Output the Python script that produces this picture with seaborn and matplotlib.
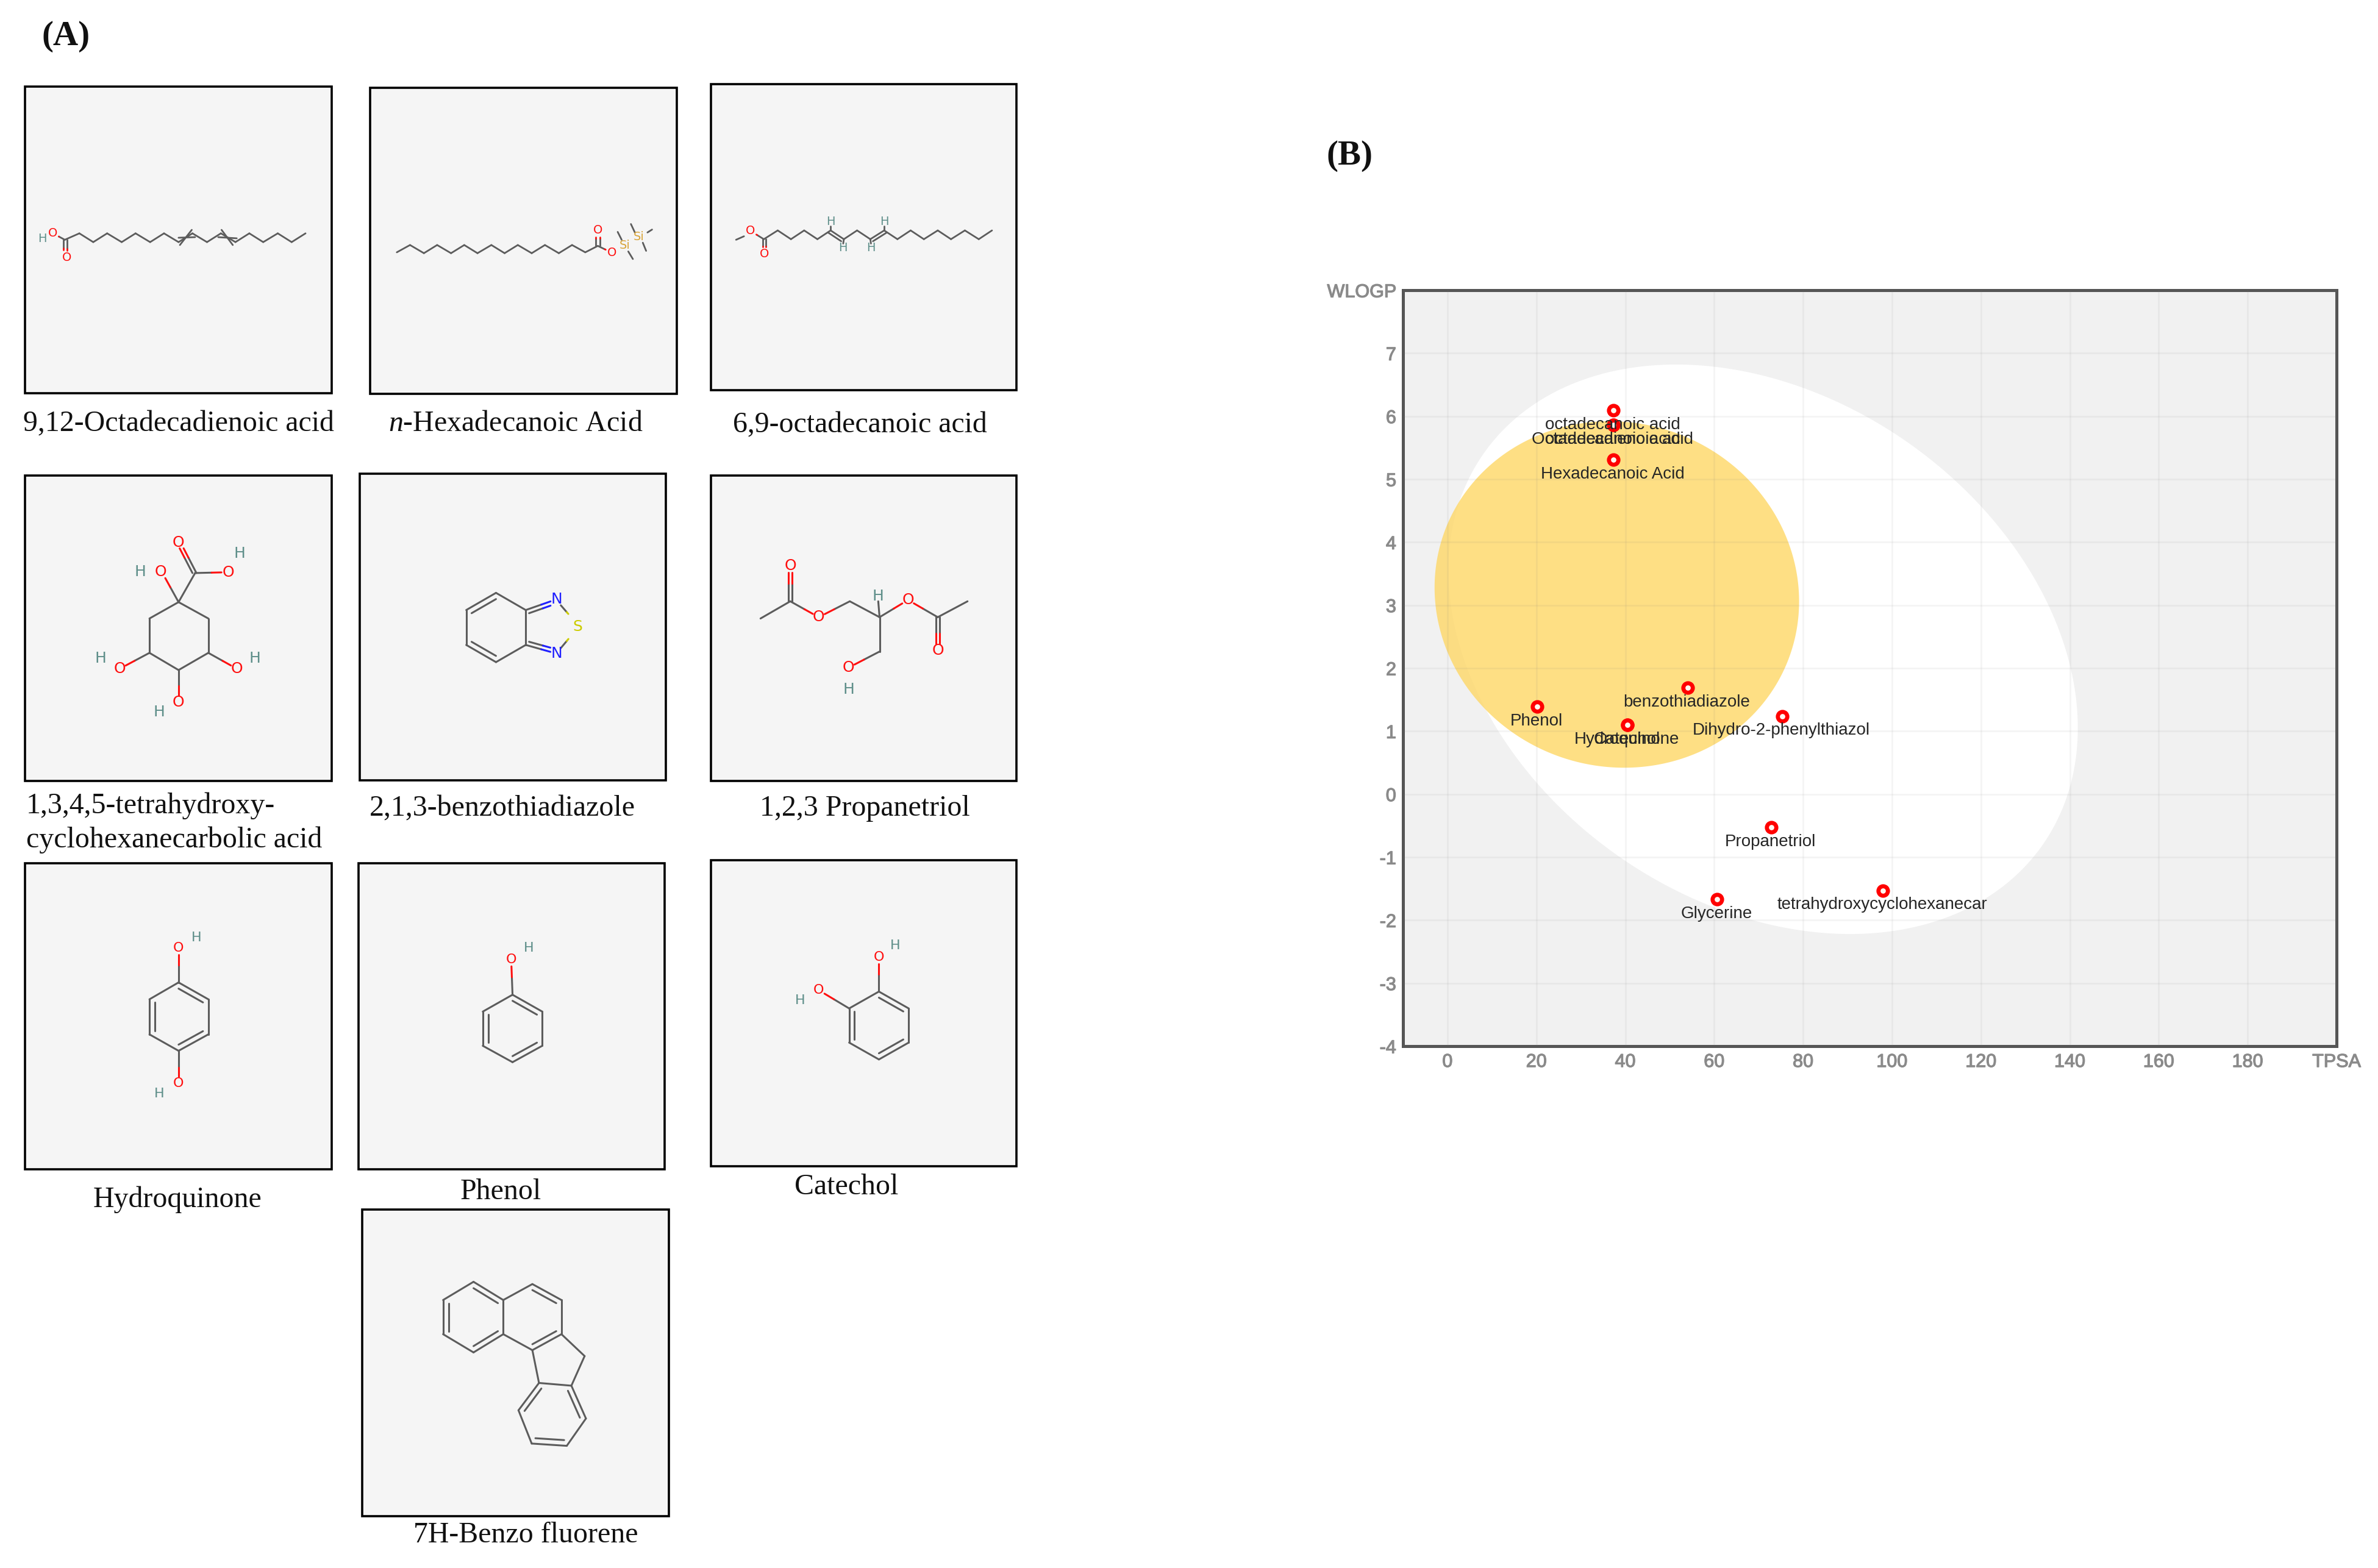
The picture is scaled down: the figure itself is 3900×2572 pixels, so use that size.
import numpy as np
import pandas as pd
import seaborn as sns
import matplotlib.pyplot as plt
import matplotlib.patheffects as pe
from matplotlib.patches import Rectangle

# (B) boiled egg values
compounds = ["octadecanoic acid", "Octadecadienoic acid", "octadecanoic acid", "Hexadecanoic Acid",
             "benzothiadiazole", "Phenol", "Hydroquinone", "Catechol", "Dihydro-2-phenylthiazol",
             "Propanetriol", "Glycerine", "tetrahydroxycyclohexanecar"]
tpsa = [37.3, 37.3, 37.3, 37.3, 54.0, 20.2, 40.5, 40.5, 75.3, 72.8, 60.7, 98.0]
wlogp = [6.09, 5.86, 5.86, 5.31, 1.69, 1.39, 1.10, 1.10, 1.24, -0.53, -1.67, -1.53]
x_ticks = [0, 20, 40, 60, 80, 100, 120, 140, 160, 180, 200]
x_tick_labels = ["0", "20", "40", "60", "80", "100", "120", "140", "160", "180", "TPSA"]
y_ticks = [-4, -3, -2, -1, 0, 1, 2, 3, 4, 5, 6, 7, 8]
y_tick_labels = ["-4", "-3", "-2", "-1", "0", "1", "2", "3", "4", "5", "6", "7", "WLOGP"]

# ellipses: centre x, centre y, half width, half height, tilt
white_egg = (71.0, 2.30, 70.8, 4.52, -0.28)
yolk = (38.1, 3.17, 41.0, 2.75, -0.04)

W, H = 3900, 2572
SERIF = "Liberation Serif"
SANS = "Liberation Sans"

sns.set_theme(style="white")
plt.rcParams["mathtext.fontset"] = "custom"
plt.rcParams["mathtext.rm"] = SERIF
plt.rcParams["mathtext.it"] = SERIF + ":italic"

fig = plt.figure(figsize=(W / 100, H / 100), dpi=100, facecolor="white")

# whole-figure axes in pixels for panel (A)
canvas = fig.add_axes([0, 0, 1, 1])
canvas.set_xlim(0, W)
canvas.set_ylim(H, 0)
canvas.axis("off")

# the zoomed crops the molecules were read from
def z3(p): return (p[0] / 0.922, p[1] / 2.09)
def z4(p): return (p[0] / 0.922, 750 + p[1] / 2.306)
def z5(p): return (p[0] / 0.922, 1400 + p[1] / 1.338)

BOND = "#5c5c5c"
RED, TEAL, BLUE, YEL, GOLD = "#ff1010", "#5f8f8a", "#2020ff", "#cccc00", "#d9a53a"

def draw_line(p, q, color=BOND, lw=2.2):
    canvas.plot([p[0], q[0]], [p[1], q[1]], color=color, lw=lw, solid_capstyle="round", zorder=3)

def het_bond(p, q, color, conv, lw=2.2):
    # half carbon colour, half atom colour, stops short of the atom label
    a, b = np.array(conv(p)), np.array(conv(q))
    m = (a + b) / 2
    end = b - (b - a) * 11 / max(np.linalg.norm(b - a), 1)
    draw_line(a, m, BOND, lw)
    draw_line(m, end, color, lw)

def molecule(conv, chains=(), doubles=(), hets=(), atoms=(), size=18, lw=2.2):
    for chain in chains:
        pts = [conv(p) for p in chain]
        for p, q in zip(pts[:-1], pts[1:]):
            draw_line(p, q, lw=lw)
    for centre, p, q in doubles:
        c, a, b = map(lambda v: np.array(conv(v)), (centre, p, q))
        draw_line(c + (a - c) * 0.82, c + (b - c) * 0.82, lw=lw)
    for p, q, color in hets:
        het_bond(p, q, color, conv, lw)
    for x, y, label, color in atoms:
        px, py = conv((x, y))
        canvas.text(px, py, label, color=color, fontsize=size, ha="center", va="center",
                    family="DejaVu Sans", zorder=4)

panels = [(41, 544, 142, 645), (607, 1110, 144, 646), (1166, 1667, 138, 640),
          (41, 544, 780, 1281), (590, 1092, 777, 1280), (1166, 1667, 780, 1281),
          (41, 544, 1416, 1918), (588, 1090, 1416, 1918), (1166, 1667, 1411, 1913),
          (594, 1097, 1984, 2487)]
for x0, x1, y0, y1 in panels:
    canvas.add_patch(Rectangle((x0, y0), x1 - x0, y1 - y0, fc="#f5f5f5", ec="black", lw=2.6, zorder=1))

# 9,12-octadecadienoic acid
molecule(z3,
         chains=[[(98, 822), (120, 800), (141, 830), (162, 800), (184, 830), (205, 800), (227, 830), (248, 800),
                  (270, 830), (291, 800), (313, 830), (334, 800), (356, 830), (377, 800), (398, 830), (420, 800),
                  (441, 830), (462, 800)],
                 [(272, 840), (290, 788)], [(335, 788), (352, 840)], [(270, 815), (295, 813)], [(330, 813), (358, 817)]],
         hets=[((98, 822), (80, 800), RED), ((101, 822), (101, 883), RED), ((96, 822), (96, 880), RED)],
         atoms=[(80, 800, "O", RED), (64, 818, "H", TEAL), (101, 883, "O", RED)], size=14, lw=2.0)
# n-hexadecanoic acid TMS
molecule(z3,
         chains=[[(600, 865), (620, 840), (641, 868), (661, 840), (682, 868), (702, 840), (722, 868), (743, 840),
                  (763, 868), (783, 840), (804, 868), (824, 840), (845, 868), (865, 840), (885, 865), (904, 843)],
                 [(934, 795), (940, 822)], [(950, 862), (957, 888)], [(954, 768), (960, 797)],
                 [(972, 832), (977, 860)], [(979, 797), (986, 787)]],
         hets=[((901, 843), (901, 790), RED), ((907, 843), (907, 790), RED), ((904, 843), (925, 866), RED)],
         atoms=[(904, 790, "O", RED), (925, 866, "O", RED), (945, 842, "Si", GOLD), (966, 812, "Si", GOLD)],
         size=14, lw=2.0)
# 6,9-octadecanoic acid
molecule(z3,
         chains=[[(1113, 822), (1125, 810)],
                 [(1155, 820), (1176, 790), (1196, 820), (1216, 790), (1236, 820), (1256, 790), (1276, 820),
                  (1296, 790), (1316, 820), (1337, 790), (1357, 820), (1377, 790), (1397, 820), (1418, 790),
                  (1438, 820), (1459, 790), (1480, 820), (1500, 790)],
                 [(1252, 797), (1272, 827)], [(1320, 827), (1341, 797)],
                 [(1256, 790), (1256, 775)], [(1276, 820), (1275, 835)], [(1316, 820), (1317, 835)], [(1337, 790), (1337, 775)]],
         hets=[((1155, 820), (1135, 792), RED), ((1153, 820), (1153, 870), RED), ((1158, 820), (1158, 870), RED)],
         atoms=[(1135, 792, "O", RED), (1156, 870, "O", RED), (1256, 760, "H", TEAL), (1275, 850, "H", TEAL),
                (1317, 850, "H", TEAL), (1337, 760, "H", TEAL)], size=14, lw=2.0)
# tetrahydroxy cyclohexanecarbolic acid
molecule(z4,
         chains=[[(270, 548), (315, 610), (315, 740), (270, 805), (226, 740), (226, 610), (270, 548)],
                 [(270, 548), (295, 438)]],
         hets=[((297, 438), (273, 322), RED), ((291, 438), (267, 322), RED), ((295, 438), (345, 435), RED),
               ((270, 548), (245, 435), RED), ((226, 740), (181, 800), RED), ((315, 740), (358, 800), RED),
               ((270, 805), (270, 926), RED)],
         atoms=[(270, 322, "O", RED), (345, 435, "O", RED), (362, 365, "H", TEAL), (243, 433, "O", RED),
                (212, 433, "H", TEAL), (181, 800, "O", RED), (152, 760, "H", TEAL), (358, 800, "O", RED),
                (385, 760, "H", TEAL), (270, 926, "O", RED), (241, 965, "H", TEAL)])
# 2,1,3-benzothiadiazole
molecule(z4,
         chains=[[(750, 513), (795, 578), (795, 710), (750, 775), (705, 710), (705, 578), (750, 513)]],
         doubles=[((750, 644), (750, 513), (705, 578)), ((750, 644), (750, 775), (705, 710))],
         hets=[((795, 578), (842, 537), BLUE), ((800, 590), (842, 553), BLUE), ((795, 710), (842, 743), BLUE),
               ((800, 698), (842, 727), BLUE), ((848, 560), (866, 612), YEL), ((848, 722), (866, 668), YEL)],
         atoms=[(842, 537, "N", BLUE), (842, 743, "N", BLUE), (873, 640, "S", YEL)])
# 1,2,3 propanetriol
molecule(z4,
         chains=[[(1150, 610), (1195, 545)], [(1285, 545), (1330, 605), (1330, 735)], [(1418, 605), (1463, 545)],
                 [(1330, 605), (1328, 545)]],
         hets=[((1192, 545), (1192, 410), RED), ((1198, 545), (1198, 410), RED), ((1195, 545), (1238, 605), RED),
               ((1285, 545), (1238, 605), RED), ((1330, 605), (1373, 540), RED), ((1418, 605), (1373, 540), RED),
               ((1415, 605), (1415, 730), RED), ((1421, 605), (1421, 730), RED), ((1330, 735), (1283, 796), RED)],
         atoms=[(1195, 410, "O", RED), (1238, 605, "O", RED), (1328, 525, "H", TEAL), (1373, 540, "O", RED),
                (1418, 730, "O", RED), (1283, 796, "O", RED), (1283, 878, "H", TEAL)])
# hydroquinone
molecule(z5,
         chains=[[(270, 283), (315, 320), (315, 397), (270, 433), (226, 397), (226, 320), (270, 283)]],
         doubles=[((270, 358), (270, 283), (315, 320)), ((270, 358), (315, 397), (270, 433)),
                  ((270, 358), (226, 397), (226, 320))],
         hets=[((270, 283), (270, 207), RED), ((270, 433), (270, 505), RED)],
         atoms=[(270, 207, "O", RED), (297, 185, "H", TEAL), (270, 505, "O", RED), (241, 527, "H", TEAL)], size=16)
# phenol
molecule(z5,
         chains=[[(775, 310), (820, 347), (820, 422), (775, 458), (730, 422), (730, 347), (775, 310)]],
         doubles=[((775, 384), (775, 310), (820, 347)), ((775, 384), (820, 422), (775, 458)),
                  ((775, 384), (730, 422), (730, 347))],
         hets=[((775, 310), (773, 233), RED)],
         atoms=[(773, 233, "O", RED), (800, 208, "H", TEAL)], size=16)
# catechol
molecule(z5,
         chains=[[(1329, 303), (1374, 340), (1374, 415), (1329, 452), (1284, 415), (1284, 340), (1329, 303)]],
         doubles=[((1329, 377), (1329, 303), (1374, 340)), ((1329, 377), (1374, 415), (1329, 452)),
                  ((1329, 377), (1284, 415), (1284, 340))],
         hets=[((1329, 303), (1329, 227), RED), ((1284, 340), (1238, 300), RED)],
         atoms=[(1329, 227, "O", RED), (1354, 202, "H", TEAL), (1238, 300, "O", RED), (1210, 322, "H", TEAL)], size=16)
# 7H-benzo fluorene
molecule(z5,
         chains=[[(716, 940), (761, 980), (761, 1055), (716, 1095), (670, 1055), (670, 980), (716, 940)],
                 [(761, 980), (805, 945), (849, 980), (849, 1055), (805, 1090), (761, 1055)],
                 [(805, 1090), (815, 1162), (864, 1168), (884, 1103), (849, 1055)],
                 [(815, 1162), (784, 1222), (804, 1295), (857, 1300), (886, 1240), (864, 1168)]],
         doubles=[((716, 1018), (716, 940), (761, 980)), ((716, 1018), (670, 1055), (670, 980)),
                  ((716, 1018), (761, 1055), (716, 1095)), ((805, 1018), (805, 945), (849, 980)),
                  ((805, 1018), (805, 1090), (849, 1055)), ((835, 1230), (815, 1162), (784, 1222)),
                  ((835, 1230), (864, 1168), (886, 1240)), ((835, 1230), (857, 1300), (804, 1295))])

def serif_label(x, y, text, ha="center", size=34.5, weight="normal"):
    canvas.text(x, y + 4, text, family=SERIF, fontsize=size, ha=ha, va="center", color="#111111", weight=weight)

serif_label(108, 56, "(A)", size=41, weight="bold")
serif_label(2213, 252, "(B)", size=41, weight="bold")
serif_label(293, 691, "9,12-Octadecadienoic acid")
serif_label(846, 691, r"$\mathit{n}$-Hexadecanoic Acid")
serif_label(1410, 693, "6,9-octadecanoic acid")
serif_label(43, 1318, "1,3,4,5-tetrahydroxy-", ha="left")
serif_label(43, 1374, "cyclohexanecarbolic acid", ha="left")
serif_label(824, 1322, "2,1,3-benzothiadiazole")
serif_label(1418, 1322, "1,2,3 Propanetriol")
serif_label(291, 1964, "Hydroquinone")
serif_label(821, 1951, "Phenol")
serif_label(1388, 1943, "Catechol")
serif_label(862, 2514, "7H-Benzo fluorene")

# panel (B)
left, right, top, bottom = 2301, 3832, 476, 1716
ax = fig.add_axes([left / W, 1 - bottom / H, (right - left) / W, (bottom - top) / H], facecolor="#f1f1f1")
ax.set_xlim(-10, 200)
ax.set_ylim(-4, 8)

t = np.linspace(0, 2 * np.pi, 400)
for (cx, cy, rx, ry, tilt), fc, alpha in [(white_egg, "white", 1.0), (yolk, "#fed766", 0.8)]:
    ax.fill(cx + rx * np.cos(t), cy + ry * np.sin(t + tilt), color=fc, alpha=alpha, lw=0, zorder=1)

ax.set_xticks(x_ticks)
ax.set_xticklabels(x_tick_labels)
ax.set_yticks(y_ticks)
ax.set_yticklabels(y_tick_labels)
ax.grid(True, color="#777777", alpha=0.08, lw=2.0, zorder=2)
ax.set_axisbelow(False)
ax.tick_params(length=0, pad=8, labelsize=22, labelcolor="#8a8a8a")
for lab in ax.get_xticklabels() + ax.get_yticklabels():
    lab.set_family(SANS)
    lab.set_path_effects([pe.withStroke(linewidth=0.9, foreground="#8a8a8a")])
for spine in ax.spines.values():
    spine.set_visible(True)
    spine.set_color("#555555")
    spine.set_linewidth(3.6)

df = pd.DataFrame({"TPSA": tpsa, "WLOGP": wlogp, "name": compounds})
sns.scatterplot(data=df, x="TPSA", y="WLOGP", ax=ax, s=125, color="#fff8f0", edgecolor="#ff0000",
                linewidth=4.8, alpha=1, legend=False, zorder=5)
ax.set_xlabel("")
ax.set_ylabel("")

for name, px, py in zip(compounds, tpsa, wlogp):
    ax.annotate(name, (px, py), xytext=(-1, -17), textcoords="offset points", ha="center", va="center",
                family=SANS, fontsize=20, color="#262626", zorder=6)

fig.savefig("out.png", dpi=100)
